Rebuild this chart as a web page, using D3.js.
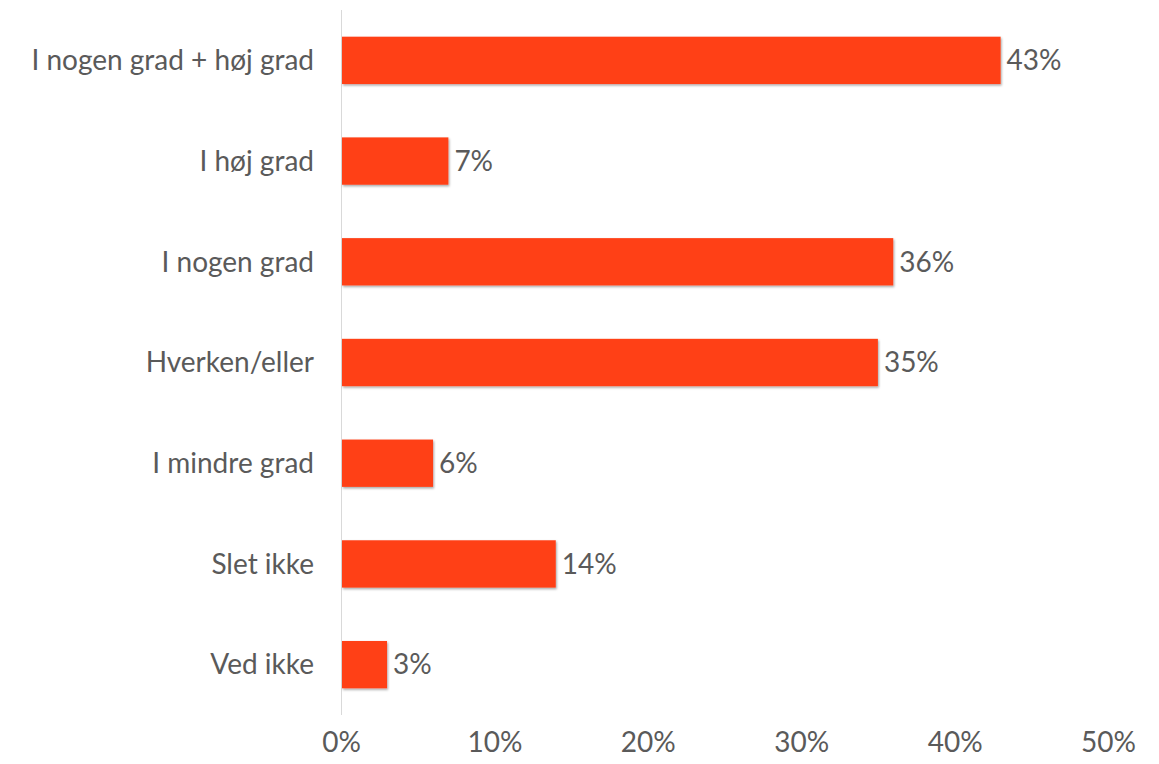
<!DOCTYPE html>
<html>
<head>
<meta charset="utf-8">
<script src="https://cdn.jsdelivr.net/npm/d3@7"></script>
<style>
  html, body { margin: 0; padding: 0; background: #fff; }
  svg { display: block; }
  text { font-family: Lato, "Open Sans", sans-serif; font-weight: 400; fill: #5a5a5a; }
</style>
</head>
<body>
<svg id="chart" width="1159" height="764"></svg>
<script>
// Survey answers and their shares (percent)
const categories = ["I nogen grad + høj grad", "I høj grad", "I nogen grad", "Hverken/eller", "I mindre grad", "Slet ikke", "Ved ikke"];
const values = [43, 7, 36, 35, 6, 14, 3];
const tickValues = [0, 10, 20, 30, 40, 50];

(function () {
  const svg = d3.select("#chart");
  const plotLeft = 341, plotRight = 1108, plotTop = 10, plotBottom = 715;
  const fontSize = 28;

  const x = d3.scaleLinear().domain([0, 50]).range([plotLeft, plotRight]);
  const y = d3.scaleBand().domain(categories).range([plotTop, plotBottom]).paddingInner(0.53).paddingOuter(0.265);

  const defs = svg.append("defs");
  const f = defs.append("filter").attr("id", "shadow").attr("x", "-5%").attr("y", "-20%").attr("width", "110%").attr("height", "150%");
  f.append("feDropShadow").attr("dx", 1).attr("dy", 1.5).attr("stdDeviation", 1).attr("flood-color", "#000").attr("flood-opacity", 0.35);

  // vertical baseline
  svg.append("line")
    .attr("x1", x(0) + 0.5).attr("x2", x(0) + 0.5)
    .attr("y1", plotTop).attr("y2", plotBottom)
    .attr("stroke", "#d9d9d9").attr("stroke-width", 1);

  const data = categories.map((c, i) => ({ c, v: values[i] }));

  svg.append("g").selectAll("rect").data(data).join("rect")
    .attr("x", x(0) + 1)
    .attr("y", d => y(d.c))
    .attr("width", d => x(d.v) - x(0) - 1)
    .attr("height", y.bandwidth())
    .attr("fill", "#ff4119")
    .attr("filter", "url(#shadow)");

  // value labels
  svg.append("g").selectAll("text").data(data).join("text")
    .attr("x", d => x(d.v) + 6)
    .attr("y", d => y(d.c) + y.bandwidth() / 2)
    .attr("dy", "0.35em")
    .attr("font-size", fontSize)
    .text(d => d.v + "%");

  // category labels
  svg.append("g").selectAll("text").data(data).join("text")
    .attr("x", plotLeft - 27)
    .attr("y", d => y(d.c) + y.bandwidth() / 2)
    .attr("dy", "0.35em")
    .attr("text-anchor", "end")
    .attr("font-size", fontSize)
    .text(d => d.c);

  // x axis tick labels
  const xAxis = d3.axisBottom(x).tickValues(tickValues).tickSize(0).tickPadding(0).tickFormat(d => d + "%");
  const gx = svg.append("g").attr("transform", "translate(0, 742)").call(xAxis);
  gx.select(".domain").remove();
  gx.selectAll("text").attr("font-size", fontSize).attr("dy", "0.35em")
    .style("font-family", "Lato, 'Open Sans', sans-serif").style("font-weight", 400).attr("fill", "#5a5a5a");
})();
</script>
</body>
</html>
